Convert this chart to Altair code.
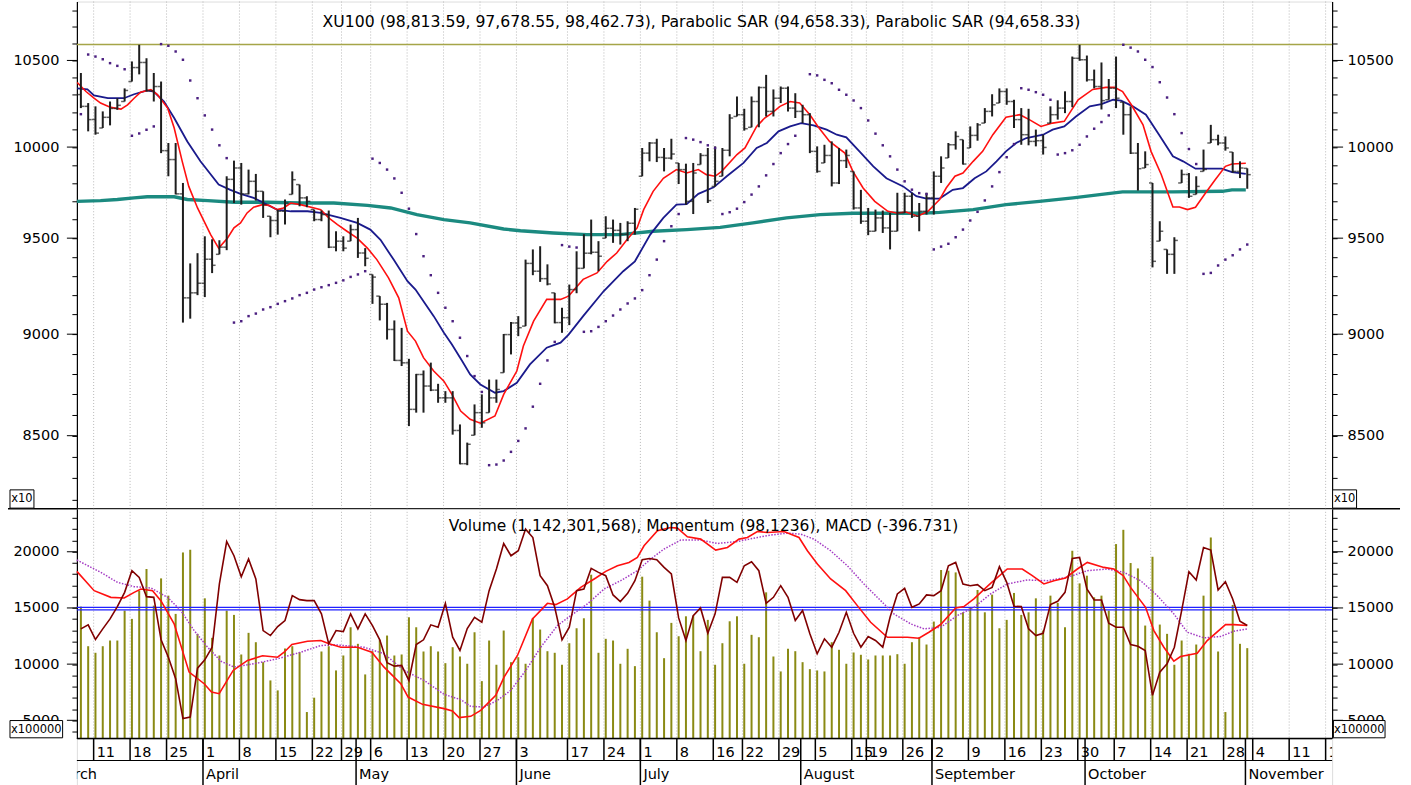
import altair as alt
import pandas as pd

# ---------------- data ----------------
highs = [10426,10251,10232,10203,10260,10279,10336,10494,10593,10513,
         10426,10376,10023,10023,9800,9366,9420,9510,9494,9489,
         9837,9924,9911,9874,9850,9754,9618,9654,9709,9864,
         9791,9727,9654,9649,9649,9537,9510,9573,9609,9447,
         9308,9195,9160,9070,9032,8876,8801,8818,8857,8752,
         8716,8716,8554,8467,8651,8700,8773,8773,9001,9062,
         9092,9386,9440,9457,9361,9212,9135,9255,9430,9521,
         9600,9484,9618,9600,9582,9591,9663,9995,10028,10047,
         9995,10047,9911,9907,9911,9966,9995,10004,9995,10187,
         10289,10218,10289,10347,10415,10330,10347,10347,10308,10241,
         10193,10004,10013,10032,9995,9986,9864,9762,9663,9654,
         9649,9636,9746,9746,9746,9690,9746,9864,9948,10023,
         10089,10042,10117,10136,10222,10302,10336,10336,10270,10222,
         10218,10099,10070,10232,10267,10319,10523,10593,10529,10446,
         10488,10391,10523,10256,10232,10023,9976,9800,9591,9440,
         9505,9874,9855,9837,9986,10126,10070,10060,9972,9920,
         9881]
lows = [10222,10089,10070,10108,10123,10212,10260,10376,10418,10318,
        10260,9966,9837,9737,9059,9079,9200,9190,9315,9414,
        9436,9690,9681,9737,9703,9609,9505,9519,9573,9737,
        9672,9667,9591,9591,9447,9430,9430,9484,9395,9351,
        9155,9070,8973,8865,8840,8546,8611,8611,8716,8659,
        8659,8505,8364,8360,8502,8538,8611,8659,8807,8898,
        8990,9041,9304,9269,9251,9055,9007,9046,9210,9340,
        9414,9325,9500,9475,9466,9484,9519,9837,9920,9916,
        9864,9930,9794,9681,9630,9902,9690,9781,9837,9948,
        10174,10093,10112,10112,10174,10174,10251,10203,10165,10136,
        9966,9857,9911,9781,9794,9883,9654,9577,9516,9537,
        9528,9440,9537,9636,9609,9537,9627,9627,9800,9939,
        9986,9902,9995,10036,10136,10174,10251,10241,10108,10013,
        10010,10004,9958,10136,10156,10193,10227,10498,10376,10336,
        10214,10270,10222,10070,9961,9758,9883,9345,9484,9311,
        9311,9800,9718,9737,9864,10023,10010,9980,9857,9827,
        9768]
closes = [10232,10156,10079,10169,10220,10238,10324,10458,10488,10322,
          10347,9980,9930,9740,9186,9212,9262,9388,9356,9452,
          9820,9883,9740,9809,9754,9681,9595,9645,9690,9818,
          9718,9699,9600,9627,9452,9484,9447,9546,9421,9393,
          9294,9153,9024,8868,8856,8627,8798,8741,8721,8683,
          8683,8525,8367,8459,8611,8562,8683,8724,8998,9057,
          9033,9366,9325,9286,9258,9059,9084,9229,9340,9420,
          9425,9404,9553,9542,9521,9580,9656,9966,10023,9942,
          9938,9961,9874,9699,9855,9953,9703,9809,9982,10165,
          10184,10104,10260,10341,10203,10279,10337,10222,10203,10184,
          9976,9864,9953,9800,9924,9953,9663,9591,9537,9609,
          9555,9537,9636,9727,9618,9645,9718,9837,9883,10013,
          10060,9905,10066,10126,10203,10241,10318,10260,10156,10070,
          10032,10036,9998,10184,10222,10260,10513,10504,10386,10347,
          10265,10337,10279,10184,9966,9879,9902,9377,9537,9414,
          9488,9847,9727,9781,9875,10042,10023,9995,9864,9883,
          9846]
opens = [10300,10232,10156,10079,10169,10220,10238,10324,10458,10488,
         10322,10347,9980,9930,9740,9186,9212,9262,9388,9356,
         9452,9820,9883,9740,9809,9754,9681,9595,9645,9690,
         9818,9718,9699,9600,9627,9452,9484,9447,9546,9421,
         9393,9294,9153,9024,8868,8856,8627,8798,8741,8721,
         8683,8683,8525,8367,8459,8611,8562,8683,8724,8998,
         9057,9033,9366,9325,9286,9258,9059,9084,9229,9340,
         9420,9425,9404,9553,9542,9521,9580,9656,9966,10023,
         9942,9938,9961,9874,9699,9855,9953,9703,9809,9982,
         10165,10184,10104,10260,10341,10203,10279,10337,10222,10203,
         10184,9976,9864,9953,9800,9924,9953,9663,9591,9537,
         9609,9555,9537,9636,9727,9618,9645,9718,9837,9883,
         10013,10060,9905,10066,10126,10203,10241,10318,10260,10156,
         10070,10032,10036,9998,10184,10222,10260,10513,10504,10386,
         10347,10265,10337,10279,10184,9966,9879,9902,9377,9537,
         9414,9488,9847,9727,9781,9875,10042,10023,9995,9864,
         9881]
sar = [10187,10535,10523,10507,10484,10468,10448,10064,10077,10098,
       10117,10597,10587,10553,10504,10382,10279,10180,10099,10010,
       9938,9059,9066,9092,9105,9126,9138,9155,9169,9183,
       9200,9212,9229,9241,9252,9264,9277,9295,9308,9325,
       9935,9911,9874,9825,9746,9659,9522,9404,9304,9212,
       9135,9066,8982,8890,8790,8712,8360,8363,8382,8423,
       8475,8535,8640,8752,8868,8961,9463,9455,9450,9012,
       9015,9037,9066,9095,9126,9157,9183,9226,9304,9386,
       9484,9564,9630,10051,10042,10028,10010,9995,9630,9640,
       9659,9695,9736,9781,9842,9905,9966,10017,10064,None,
       10419,10412,10386,10366,10328,10299,10266,10222,10151,10076,
       10010,9948,9874,9809,9763,9744,9739,9440,9455,9470,
       9505,9546,9595,9642,9704,9781,9860,9943,10017,10337,
       10328,10314,10299,10270,9958,9966,9982,10013,10060,10104,
       10142,10180,None,10593,10576,10553,10504,10461,10372,10283,
       10187,10079,9989,9905,9311,9316,9355,9386,9409,9440,
       9466]
resistance = 10595

red_i = [-0.5,0.7,1.8,2.7,4.1,5.5,6.4,7.3,8.2,9.6,10.5,11.9,12.8,13.9,14.8,16,17.8,18.9,20.1,21,
         21.9,22.8,23.7,24.9,25.8,26.9,27.8,28.8,30.1,32,32.9,34,35.2,36.5,37.9,39.3,40.6,42.2,43.6,44.8,
         45.9,47,48.4,49.8,50.9,52.1,53.4,54.8,56.8,58,59.8,60.7,62.1,63.9,65.8,66.9,68.9,70.8,72.2,73.5,
         74.9,76.3,77.2,78.5,79.9,81.7,83.1,84.7,85.8,87,87.9,90,91.1,92.7,93.8,94.8,95.9,97.3,98.6,100,
         101.1,102.7,104.8,105.9,107.3,108.9,110.7,111.9,113.2,114.8,116.2,117.8,118.7,119.9,121,122.4,
         123.7,125.1,126.9,128.8,130.1,131.7,133.3,134.9,136.8,138.8,140.6,141.8,142.9,144.1,145.7,146.8,
         148.2,149.8,150.7,151.8,152.9,154.3,155.6,157,157.9,159.8]
red_v = [10370,10318,10279,10251,10226,10216,10241,10279,10314,10329,10300,10222,10108,9920,9781,9663,9519,9447,9500,9555,
         9582,9636,9667,9681,9677,9654,9663,9690,9681,9663,9654,9609,9573,9537,9500,9447,9386,9290,9186,9015,
         8965,8882,8815,8765,8700,8619,8579,8560,8595,8700,8815,8940,9066,9178,9178,9195,9282,9316,9377,9421,
         9491,9555,9654,9754,9826,9874,9855,9874,9846,9837,9864,9958,9995,10117,10165,10193,10232,10260,10251,10184,
         10117,10032,9966,9864,9772,9699,9645,9636,9641,9618,9645,9709,9772,9837,9855,9920,
         9976,10070,10169,10184,10156,10117,10136,10146,10270,10330,10342,10342,10318,10241,10126,9976,
         9847,9668,9668,9654,9667,9746,9818,9892,9905,9909]
blue_i = [-0.5,0.9,1.8,3.7,5.9,7.3,9.1,10,11.4,12.8,14.6,16.4,18.9,20.5,21.9,23.7,25.1,26.9,28.8,31.1,
          32.9,35.6,37.9,39.7,41.1,42.9,44.8,45.9,47.3,48.4,49.8,50.9,52.3,53.4,54.8,56.8,58,59.8,61.6,63.9,
          65.8,66.9,68.9,71.7,74.4,76,78.1,79.9,81.7,83.1,84.7,86.8,88.6,90.9,92.7,94.1,95.7,97.3,98.8,100.5,
          102.3,103.7,105,106.8,108.7,110.5,112.8,114.6,116,117.8,119.6,121,122.6,124.2,125.6,126.9,128.3,129.7,
          132,133.3,134.9,136.5,138.4,140,141.6,142.7,144.3,146.1,147.9,149.8,151.2,152.9,156.5,157.9,159.8]
blue_v = [10336,10330,10295,10279,10279,10302,10324,10318,10260,10165,10032,9920,9791,9762,9740,9718,9690,9654,9645,9645,
          9636,9609,9582,9546,9491,9386,9273,9229,9152,9092,9007,8948,8865,8798,8749,8708,8716,8757,8848,8932,
          8957,8998,9092,9220,9325,9377,9519,9609,9681,9684,9740,9776,9837,9911,9995,10023,10089,10117,10136,10123,
          10099,10070,10055,9976,9892,9826,9781,9727,9714,9714,9762,9772,9826,9864,9920,9976,10023,10051,
          10070,10099,10117,10174,10232,10245,10270,10265,10232,10184,10070,9948,9920,9879,9879,9860,9850]
teal_i = [-0.55,2.7,5,7.3,9.1,12.8,14.6,17.4,21,25.6,30.1,34.7,39.3,42.5,46.1,49.8,53.4,58,60.3,64.8,
          69.4,74,78.5,83.1,87.7,92.2,96.8,101.4,105.9,110.5,115.1,117.8,122.4,126.9,131.5,136.1,140.6,142.9,
          149.8,156.6,157.9,159.8]
teal_v = [9699,9703,9709,9718,9724,9724,9709,9703,9694,9694,9690,9690,9677,9663,9627,9600,9582,9549,9540,9528,
          9519,9519,9537,9546,9558,9582,9609,9627,9634,9634,9634,9639,9654,9681,9699,9718,9740,9751,
          9751,9754,9762,9762]

# lower panel (units of the x100000 volume axis)
volume = [15118,11594,11009,11594,12100,12100,14763,14026,16538,18464,
          15207,17630,16095,14470,19938,20178,12695,15856,12340,10769,
          14763,14381,10858,12784,11950,10174,8550,7662,11390,11594,
          11062,5736,7014,11124,11594,9438,10769,13281,11807,9083,
          11150,12162,12544,10769,10858,14169,13281,11124,11594,11124,
          10086,11506,10680,10032,12837,8488,12100,9944,12988,10174,
          10618,10032,14115,13077,11150,11009,9944,11861,13192,14080,
          17959,11009,12251,12100,10032,11364,9820,17781,15651,12837,
          10529,13671,12482,14257,14319,11150,13938,9944,11861,13813,
          14257,10032,12606,12393,16388,10680,9349,11364,11150,10174,
          9553,9438,9349,11950,11275,10032,11035,10831,10414,10769,
          10769,10769,10885,10032,11950,12393,11745,13787,18376,18314,
          18163,14612,15056,16600,14612,16183,13192,13938,16334,14381,
          14612,15855,12988,16095,15447,13281,20089,17186,17870,15944,
          16095,14763,20683,21953,18997,18518,13432,19556,13521,12695,
          9944,12100,10920,11745,16095,21270,11124,5736,15269,11807,
          11423]
momentum = [13139,13494,12189,13139,14027,15118,16388,18314,17720,16006,
            15944,12163,10618,8701,5151,5293,9644,10387,11506,17133,
            20914,19645,17781,19352,17577,12988,12544,13343,13876,16095,
            15740,15651,15651,14470,11807,12988,12899,14470,13139,14470,
            13432,12163,10121,9820,9882,8550,11745,12163,13494,13281,
            15411,12393,11213,13165,14168,13725,16538,18464,20737,19645,
            20089,22015,21269,17870,16982,15056,12163,13281,16538,16687,
            18518,18163,17870,16157,15562,16299,17426,19290,19405,19290,
            18607,18021,14115,12100,14319,15003,12748,14470,17720,17720,
            17275,18757,19112,18314,15411,15944,16982,15944,13876,14763,
            12695,10920,12251,11506,12837,14612,12748,11506,12455,12100,
            11506,14168,16246,16743,15056,15358,16157,16095,16538,18757,
            19050,17133,16982,17071,16538,16831,18669,17275,15145,15118,
            13139,12544,12748,15296,15589,16388,19405,19494,16687,15713,
            15713,13636,13281,13281,11745,11594,11213,7219,9287,10032,
            11506,14763,18225,17488,20382,20151,16600,17337,15801,13813,
            13432]
macd_i = [-0.55,1.82,4.11,5.94,7.31,8.23,9.83,10.97,12.79,14.85,16.91,17.92,18.97,20.89,22.86,24.92,26.98,27.88,
          28.94,31.09,32.91,34.05,35.66,37.95,39.91,41.59,43.88,44.89,46.86,49.82,50.97,51.88,53.48,54.85,56.91,
          58.05,59.89,61.95,64,65.14,66.74,68.57,70.63,72,73.6,75.19,76.34,77.25,79.09,80.91,81.83,83.2,85.03,
          87.08,88.69,90.28,91.43,92.8,94.17,96.45,98.51,99.66,101.03,102.85,104.91,106.51,108.34,110.63,113.37,
          114.96,116.33,117.94,120,121.13,122.5,124.79,127.08,129.14,130.51,132.1,133.48,135.08,136.69,138.06,
          140.33,141.7,142.99,143.99,146.05,147.19,148.56,149.93,150.85,153.14,154.51,157.02,158.16,160]
macd_v = [18252,16538,15944,15890,16388,16688,16538,15651,13583,9287,8257,7512,7370,9438,10326,10744,10618,11062,
          11745,12038,12100,11807,11506,11506,11062,9731,8257,7068,6420,6038,5825,5239,5354,5886,7219,
          8843,10769,14027,15411,15296,15802,16831,17666,18252,18758,19050,19494,20532,21864,22157,22104,21331,21127,
          20151,20382,21127,21269,21802,21713,21802,21269,20089,18908,17577,16538,15207,13725,12394,12394,
          12305,12837,13524,15004,15118,15801,17186,18464,18464,17870,17133,17426,17666,18464,19050,
          18607,18464,17870,16831,15056,12988,11506,10264,10680,10973,12100,13518,13518,13432]
sig_i = [-0.55,2.74,5.03,7.31,9.6,11.89,13.71,15.54,17.38,19.2,21.02,23.77,26.98,30.17,32.91,34.74,38.85,41.59,
         44.34,47.08,49.82,52.11,53.48,55.31,57.14,58.97,61.03,63.08,65.37,67.2,69.49,71.77,74.05,76.34,78.17,
         79.99,82.28,85.03,87.32,90.06,92.8,94.63,96.91,98.74,100.56,102.85,105.14,107.42,109.71,111.53,113.82,
         115.65,117.94,120.23,122.5,124.79,127.08,129.83,132.57,135.31,138.06,140.8,143.08,145.36,147.65,149.93,
         151.77,154.05,156.34,158.16,160]
sig_v = [19264,18163,17275,16894,16778,15944,14763,12988,11506,10263,9731,10032,10476,11062,11657,11719,11506,10920,
         9438,8550,7308,6837,6242,6180,6775,7663,9438,11506,13432,14320,15358,16689,17426,18314,19352,
         20240,21039,21039,20737,20914,21269,21482,21660,21571,21127,20089,18758,17133,15651,14470,13583,
         13139,13281,14320,15056,16246,17133,17488,17426,17719,18314,18464,18163,17426,16095,14470,
         12837,12340,12455,12926,13139]
band_levels = [15056, 14825]

# date axis
week_idx = [2,7,12,17,22,27,32,36,40,45,50,55,60,67,72,77,82,87,91,96,101,106,108,113,117,
            122,127,132,137,142,147,152,157,161,166,171]
week_lbl = ["11","18","25","1","8","15","22","29","6","13","20","27","3","17","24","1","8","16","22","29",
            "5","15","19","26","2","9","16","23","30","7","14","21","28","4","11","18"]
month_idx = [-4, 17, 38, 60, 77, 99, 117, 138, 160]
month_lbl = ["March","April","May","June","July","August","September","October","November"]

title_up = "XU100 (98,813.59, 97,678.55, 98,462.73), Parabolic SAR (94,658.33), Parabolic SAR (94,658.33)"
title_lo = "Volume (1,142,301,568), Momentum (98,1236), MACD (-396.731)"

up_ticks = list(range(8200, 10900, 100))
up_major = [8500, 9000, 9500, 10000, 10500]
lo_ticks = list(range(4000, 24000, 1000))
lo_major = [5000, 10000, 15000, 20000]

# ---------------- layout ----------------
W, H1, H2, H3 = 1257, 508, 230, 47
FONT = "DejaVu Sans"
XS = alt.Scale(domain=[-0.548, 171.64], nice=False, zero=False)
YS1 = alt.Scale(type="log", domain=[8157, 10854], nice=False)
YS2 = alt.Scale(domain=[3380, 23820], nice=False, zero=False)
one = pd.DataFrame({"k": [0]})


def xenc(field="i"):
    return alt.X(f"{field}:Q", scale=XS, axis=None, title=None)


def yenc(field, scale, axis=None):
    return alt.Y(f"{field}:Q", scale=scale, axis=axis, title=None)


def yaxis(orient, values, step, pad):
    return alt.Axis(orient=orient, values=values, format="d",
                    labelExpr=f"datum.value % {step} == 0 ? datum.label : ''",
                    tickSize=5, tickColor="black", tickWidth=1,
                    domainColor="black", domainWidth=1.2,
                    labelColor="black", labelFont=FONT, labelFontSize=14.5,
                    labelPadding=pad, labelOverlap=False, labelFlush=False,
                    labelBound=False, grid=False, title=None)


def line(ii, vv, scale, axis=None, **kw):
    df = pd.DataFrame({"i": ii, "v": vv})
    return alt.Chart(df).mark_line(**kw).encode(x=xenc(), y=yenc("v", scale, axis))


def box(x1, x2, ya, yb, label, fs):
    r = alt.Chart(one).mark_rect(fill="white", stroke="black", strokeWidth=1).encode(
        x=alt.value(x1), x2=alt.value(x2), y=alt.value(ya), y2=alt.value(yb))
    t = alt.Chart(one).mark_text(text=label, font=FONT, fontSize=fs, color="black",
                                 align="center", baseline="middle").encode(
        x=alt.value((x1 + x2) / 2), y=alt.value((ya + yb) / 2 + 0.5))
    return [r, t]


def major_ticks(vals, scale, length_l, length_r):
    df = pd.DataFrame({"v": vals})
    l = alt.Chart(df).mark_rule(color="black", strokeWidth=1).encode(
        y=yenc("v", scale), x=alt.value(-length_l), x2=alt.value(0))
    r = alt.Chart(df).mark_rule(color="black", strokeWidth=1).encode(
        y=yenc("v", scale), x=alt.value(W), x2=alt.value(W + length_r))
    return [l, r]


def gridlines(h):
    return alt.Chart(pd.DataFrame({"i": week_idx})).transform_calculate(
        p="datum.i - 0.25").mark_rule(color="#b8b8b8", strokeWidth=1, strokeDash=[1, 2]).encode(
        x=xenc("p"), y=alt.value(0), y2=alt.value(h))


# ---------------- upper panel ----------------
bars = pd.DataFrame({"i": list(range(len(highs))), "o": opens, "h": highs, "l": lows, "c": closes})
sar_df = pd.DataFrame({"i": list(range(len(sar))), "v": sar}).dropna()

spacer = alt.Chart(one).mark_rule(opacity=0, strokeWidth=0).encode(
    x=alt.value(-76), x2=alt.value(W + 78), y=alt.value(H1 / 2))
res = alt.Chart(pd.DataFrame({"v": [resistance]})).mark_rule(color="#a5a548", strokeWidth=1.6).encode(
    y=yenc("v", YS1), x=alt.value(0), x2=alt.value(W))
teal = line(teal_i, teal_v, YS1, yaxis("left", up_ticks, 500, 13), color="#1b8a80", strokeWidth=3.4)
blue = line(blue_i, blue_v, YS1, yaxis("right", up_ticks, 500, 10), color="#1a1a8c", strokeWidth=1.8)
red = line(red_i, red_v, YS1, color="#ff1010", strokeWidth=1.6)
hl = alt.Chart(bars).mark_rule(color="#1e1e1e", strokeWidth=2).encode(
    x=xenc(), y=yenc("l", YS1), y2=alt.Y2("h"))
op = alt.Chart(bars).transform_calculate(oc="clamp(datum.o, datum.l, datum.h)").mark_tick(
    orient="horizontal", size=3.5, thickness=1.5, color="#1e1e1e", xOffset=-1.75).encode(
    x=xenc(), y=yenc("oc", YS1))
cl = alt.Chart(bars).mark_tick(
    orient="horizontal", size=3.5, thickness=1.5, color="#1e1e1e", xOffset=1.75).encode(
    x=xenc(), y=yenc("c", YS1))
sar_m = alt.Chart(sar_df).mark_square(size=6, color="#4b1f80", filled=True, opacity=1).encode(
    x=xenc(), y=yenc("v", YS1))
t_up = alt.Chart(one).mark_text(text=title_up, font=FONT, fontSize=15.7, color="black",
                                align="center", baseline="alphabetic").encode(
    x=alt.value(625.5), y=alt.value(25.7))
sep = alt.Chart(one).mark_rule(color="black", strokeWidth=1.5).encode(
    x=alt.value(-69), x2=alt.value(W + 68), y=alt.value(H1))

upper = alt.layer(
    spacer, gridlines(H1), res, teal, blue, red, hl, op, cl, sar_m, t_up, sep,
    *major_ticks(up_major, YS1, 10, 11),
    *box(-67, -43, 489, 507.3, "x10", 11.5),
    *box(W + 0.5, W + 24.5, 489, 507.3, "x10", 11.5),
).resolve_scale(y="independent").properties(width=W, height=H1)

# ---------------- lower panel ----------------
vol_df = pd.DataFrame({"i": list(range(len(volume))), "v": volume})
vol = alt.Chart(vol_df).mark_rule(color="#8a8a14", strokeWidth=2).encode(
    x=xenc(), y=yenc("v", YS2, yaxis("left", lo_ticks, 5000, 13)), y2=alt.value(H2))
band = alt.Chart(pd.DataFrame({"v": band_levels})).mark_rule(color="#2020ff", strokeWidth=1.3).encode(
    y=yenc("v", YS2), x=alt.value(0), x2=alt.value(W))
sig = line(sig_i, sig_v, YS2, color="#a43cc4", strokeWidth=1.5, strokeDash=[1.5, 1.5])
macd = line(macd_i, macd_v, YS2, color="#ff1010", strokeWidth=1.6)
mom = line(list(range(len(momentum))), momentum, YS2, yaxis("right", lo_ticks, 5000, 10),
           color="#800000", strokeWidth=1.6)
t_lo = alt.Chart(one).mark_text(text=title_lo, font=FONT, fontSize=15.5, color="black",
                                align="center", baseline="alphabetic").encode(
    x=alt.value(627.5), y=alt.value(22.5))

lower = alt.layer(
    gridlines(H2), vol, band, sig, macd, mom, t_lo,
    *major_ticks(lo_major, YS2, 10, 11),
    *box(-67, -14.3, 212, 229.3, "x100000", 11.5),
    *box(W + 1.3, W + 53, 212, 229.3, "x100000", 11.5),
).resolve_scale(y="independent").properties(width=W, height=H2)

# ---------------- date axis panel ----------------
wk = pd.DataFrame({"i": week_idx, "t": week_lbl})
mo = pd.DataFrame({"i": month_idx, "t": month_lbl})
top_line = alt.Chart(one).mark_rule(color="black", strokeWidth=1.5).encode(
    x=alt.value(0), x2=alt.value(W), y=alt.value(0))
mid_line = alt.Chart(one).mark_rule(color="black", strokeWidth=1.2).encode(
    x=alt.value(0), x2=alt.value(W), y=alt.value(22))
wk_r = alt.Chart(wk).transform_calculate(p="datum.i - 0.25").mark_rule(
    color="black", strokeWidth=1.5, clip=True).encode(x=xenc("p"), y=alt.value(0), y2=alt.value(22))
mo_r = alt.Chart(mo).transform_calculate(p="datum.i - 0.25").mark_rule(
    color="black", strokeWidth=1.5, clip=True).encode(x=xenc("p"), y=alt.value(0), y2=alt.value(H3))
wk_t = alt.Chart(wk).transform_calculate(p="datum.i - 0.25").mark_text(
    align="left", baseline="alphabetic", dx=3, font=FONT, fontSize=14.5, color="black", clip=True).encode(
    x=xenc("p"), y=alt.value(18.7), text="t:N")
mo_t = alt.Chart(mo).transform_calculate(p="datum.i - 0.25").mark_text(
    align="left", baseline="alphabetic", dx=3, font=FONT, fontSize=14.5, color="black", clip=True).encode(
    x=xenc("p"), y=alt.value(40.3), text="t:N")

axis_panel = alt.layer(top_line, mid_line, wk_r, mo_r, wk_t, mo_t).properties(width=W, height=H3)

chart = alt.vconcat(upper, lower, axis_panel, spacing=0, bounds="flush").properties(
    padding=0, background="white"
).configure_view(stroke=None).configure(font=FONT)

chart.save("out.html", embed_options={"renderer": "svg", "actions": False})
